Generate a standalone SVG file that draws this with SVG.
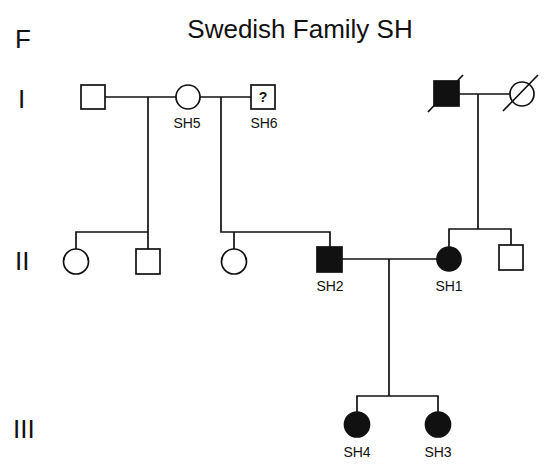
<svg xmlns="http://www.w3.org/2000/svg" width="549" height="473" viewBox="0 0 549 473">
<style>
text{font-family:"Liberation Sans",Arial,sans-serif;fill:#111}
.big{font-size:26px}
.lbl{font-size:14px;text-anchor:middle}
.q{font-size:14px;font-weight:bold;text-anchor:middle}
.sym{stroke:#111;stroke-width:1.7;fill:#fff}
.aff{fill:#111}
#connectors path,#connectors line{stroke:#111;stroke-width:1.7;fill:none}
</style>
<rect width="549" height="473" fill="#fff"/>
<text class="big" x="15" y="48">F</text>
<text class="big" x="300" y="38" text-anchor="middle">Swedish Family SH</text>
<text class="big" x="18" y="108">I</text>
<text class="big" x="15" y="270">II</text>
<text class="big" x="13" y="438">III</text>
<g id="connectors">
<line x1="105" y1="97" x2="176" y2="97"/>
<line x1="200" y1="97" x2="251" y2="97"/>
<path d="M148 97V232M76 249V232H148V249"/>
<path d="M221 97V232H330V247M234 232V249"/>
<line x1="459" y1="94" x2="510" y2="94"/>
<path d="M478 94V229M449 247V229H511V245"/>
<line x1="342" y1="259" x2="437" y2="259"/>
<path d="M389 259V396M357 412V396H438V412"/>
</g>
<g id="I1"><rect class="sym" x="81" y="85" width="24" height="24"/></g>
<g id="SH5"><circle class="sym" cx="188" cy="97" r="12"/><text class="lbl" x="187" y="128">SH5</text></g>
<g id="SH6"><rect class="sym" x="251" y="85" width="24" height="24"/><text class="q" x="263" y="102">?</text><text class="lbl" x="264" y="128">SH6</text></g>
<g id="I3"><rect class="sym aff" x="434" y="81" width="25" height="25"/><line x1="428" y1="112" x2="463" y2="75" stroke="#111" stroke-width="1.7"/></g>
<g id="I4"><circle class="sym" cx="522" cy="94" r="12"/><line x1="503" y1="111" x2="538" y2="75" stroke="#111" stroke-width="1.7"/></g>
<g id="II1"><circle class="sym" cx="76" cy="261.5" r="12.5"/></g>
<g id="II2"><rect class="sym" x="136" y="249" width="24" height="25"/></g>
<g id="II3"><circle class="sym" cx="234" cy="261.5" r="12.5"/></g>
<g id="SH2"><rect class="sym aff" x="317" y="247" width="25" height="25"/><text class="lbl" x="330" y="291">SH2</text></g>
<g id="SH1"><circle class="sym aff" cx="449" cy="259" r="12"/><text class="lbl" x="449" y="291">SH1</text></g>
<g id="II6"><rect class="sym" x="499" y="245" width="24" height="25"/></g>
<g id="SH4"><circle class="sym aff" cx="357" cy="424.5" r="12.5"/><text class="lbl" x="357" y="457">SH4</text></g>
<g id="SH3"><circle class="sym aff" cx="438" cy="424.5" r="12.5"/><text class="lbl" x="438" y="457">SH3</text></g>
</svg>
